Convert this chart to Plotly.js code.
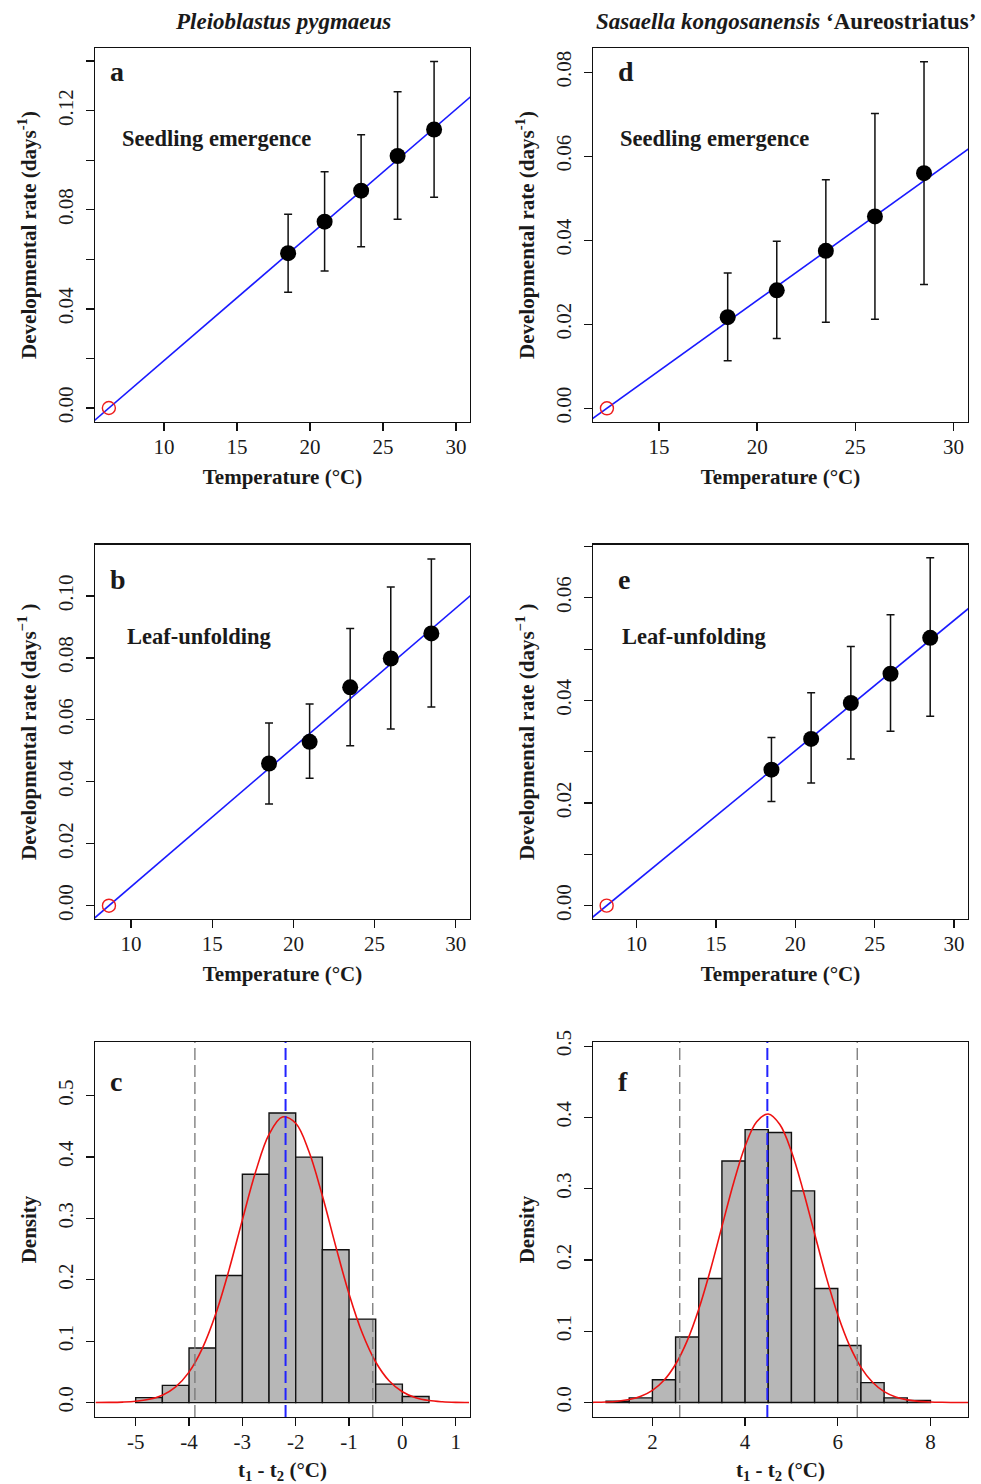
<!DOCTYPE html>
<html>
<head>
<meta charset="utf-8">
<script src="https://cdn.plot.ly/plotly-3.0.1.min.js"></script>
<style>body{margin:0;background:#fff}#chart{width:981px;height:1484px}</style>
</head>
<body>
<div id="chart"></div>
<script>
// ---------------- data ----------------
const temps = [18.5, 21, 23.5, 26, 28.5];

// Pleioblastus pygmaeus — seedling emergence (a)
const rateA  = [0.0625, 0.0752, 0.0877, 0.1017, 0.1124];
const upperA = [0.0782, 0.0954, 0.1103, 0.1276, 0.1399];
const lowerA = [0.0467, 0.0553, 0.0651, 0.0762, 0.0851];
const baseTempA = [6.22];
const slopeA = [0.00507];

// Pleioblastus pygmaeus — leaf-unfolding (b)
const rateB  = [0.0459, 0.0529, 0.0705, 0.0798, 0.0879];
const upperB = [0.0590, 0.0651, 0.0895, 0.1029, 0.1119];
const lowerB = [0.0328, 0.0411, 0.0516, 0.0570, 0.0641];
const baseTempB = [8.64];
const slopeB = [0.004496];

// Sasaella — seedling emergence (d)
const rateD  = [0.0217, 0.0281, 0.0375, 0.0457, 0.0560];
const upperD = [0.0322, 0.0398, 0.0544, 0.0702, 0.0825];
const lowerD = [0.0113, 0.0166, 0.0205, 0.0212, 0.0295];
const baseTempD = [12.35];
const slopeD = [0.003355];

// Sasaella — leaf-unfolding (e)
const rateE  = [0.0265, 0.0325, 0.0395, 0.0452, 0.0522];
const upperE = [0.0328, 0.0415, 0.0505, 0.0567, 0.0678];
const lowerE = [0.0203, 0.0239, 0.0286, 0.0340, 0.0369];
const baseTempE = [8.12];
const slopeE = [0.002542];

// histogram c
const binStartC = [-5, -4.5, -4, -3.5, -3, -2.5, -2, -1.5, -1, -0.5, 0];
const densC = [0.008, 0.028, 0.089, 0.207, 0.372, 0.472, 0.400, 0.249, 0.136, 0.030, 0.010];
const curveXC = [-5.75,-5.5,-5.25,-5,-4.75,-4.5,-4.25,-4,-3.75,-3.5,-3.25,-3,-2.75,-2.5,-2.25,-2,-1.75,-1.5,-1.25,-1,-0.75,-0.5,-0.25,0,0.25,0.5,0.75,1,1.25];
const curveYC = [0.0001,0.0003,0.0008,0.0021,0.0053,0.0121,0.0257,0.0496,0.0883,0.1442,0.2163,0.2978,0.3765,0.4369,0.4654,0.4552,0.4087,0.3369,0.2550,0.1771,0.1130,0.0661,0.0356,0.0176,0.0079,0.0033,0.0013,0.0004,0.0001];
const ciC = [-3.89, -0.555];
const meanC = [-2.19];
const xTickValsC = [-5, -4, -3, -2, -1, 0, 1];
const xTickTextC = ["-5", "-4", "-3", "-2", "-1", "0", "1"];

// histogram f
const binStartF = [1, 1.5, 2, 2.5, 3, 3.5, 4, 4.5, 5, 5.5, 6, 6.5, 7, 7.5];
const densF = [0.002, 0.0065, 0.032, 0.092, 0.174, 0.339, 0.383, 0.379, 0.297, 0.160, 0.080, 0.028, 0.0065, 0.003];
const curveXF = [0.5,0.75,1,1.25,1.5,1.75,2,2.25,2.5,2.75,3,3.25,3.5,3.75,4,4.25,4.5,4.75,5,5.25,5.5,5.75,6,6.25,6.5,6.75,7,7.25,7.5,7.75,8,8.25,8.5,8.75,9];
const curveYF = [0.0001,0.0003,0.0008,0.0019,0.0042,0.0087,0.0170,0.0312,0.0537,0.0866,0.1310,0.1857,0.2469,0.3078,0.3597,0.3941,0.4049,0.3901,0.3523,0.2984,0.2369,0.1764,0.1231,0.0805,0.0494,0.0284,0.0153,0.0078,0.0037,0.0016,0.0007,0.0003,0.0001,0,0];
const ciF = [2.59, 6.42];
const meanF = [4.48];

// ---------------- helpers ----------------
const W = 981, H = 1484;
const PX = x => x / W;
const PY = y => 1 - y / H;
const FONT = 'Liberation Serif, Times New Roman, serif';
const TXT = '#1a1a1a';

function rateTraces(ax, ay, rate, upper, lower, t0, slope) {
  const lx = [t0[0] - 5, 35];
  const ly = lx.map(x => slope[0] * (x - t0[0]));
  return [
    {type: 'scatter', mode: 'lines', x: lx, y: ly, xaxis: ax, yaxis: ay,
     line: {color: '#1a1aff', width: 1.6}, hoverinfo: 'skip'},
    {type: 'scatter', mode: 'markers', x: temps, y: rate, xaxis: ax, yaxis: ay,
     marker: {color: '#000', size: 16},
     error_y: {type: 'data', symmetric: false,
               array: upper.map((u, i) => u - rate[i]),
               arrayminus: lower.map((l, i) => rate[i] - l),
               color: '#111', thickness: 1.5, width: 4}},
    {type: 'scatter', mode: 'markers', x: t0, y: [0], xaxis: ax, yaxis: ay,
     marker: {symbol: 'circle-open', size: 13, color: '#ee1c1c', line: {width: 1.4, color: '#ee1c1c'}}}
  ];
}

function histTraces(ax, ay, starts, dens, cx, cy) {
  return [
    {type: 'bar', x: starts, y: dens, width: 0.5, offset: 0, xaxis: ax, yaxis: ay,
     marker: {color: '#b7b7b7', line: {color: '#111', width: 1.4}}},
    {type: 'scatter', mode: 'lines', x: cx, y: cy, xaxis: ax, yaxis: ay,
     line: {color: '#ee1111', width: 1.6, shape: 'spline'}}
  ];
}

const data = [].concat(
  rateTraces('x', 'y', rateA, upperA, lowerA, baseTempA, slopeA),
  rateTraces('x2', 'y2', rateD, upperD, lowerD, baseTempD, slopeD),
  rateTraces('x3', 'y3', rateB, upperB, lowerB, baseTempB, slopeB),
  rateTraces('x4', 'y4', rateE, upperE, lowerE, baseTempE, slopeE),
  histTraces('x5', 'y5', binStartC, densC, curveXC, curveYC),
  histTraces('x6', 'y6', binStartF, densF, curveXF, curveYF)
);

const colL = [PX(95), PX(470)];
const colR = [PX(593), PX(968)];
const row1 = [PY(422), PY(48)];
const row2 = [PY(919), PY(544.5)];
const row3 = [PY(1417), PY(1042)];

const tickFont = {family: FONT, size: 21, color: TXT};
const titleFont = {family: FONT, size: 21, color: TXT};

function xAx(domain, anchor, range, extra, title) {
  return Object.assign({
    domain: domain, anchor: anchor, range: range,
    showline: true, mirror: true, linecolor: '#111', linewidth: 1.4,
    ticks: 'outside', ticklen: 8, tickwidth: 1.3, tickcolor: '#111',
    showgrid: false, zeroline: false, tickfont: tickFont, ticklabelstandoff: -3,
    title: {text: title, font: titleFont, standoff: 11}
  }, extra);
}
function yAx(domain, anchor, range, extra, title) {
  return Object.assign({
    domain: domain, anchor: anchor, range: range,
    showline: true, mirror: true, linecolor: '#111', linewidth: 1.4,
    ticks: 'outside', ticklen: 8, tickwidth: 1.3, tickcolor: '#111',
    showgrid: false, zeroline: false, tickfont: tickFont, tickangle: -90,
    ticklabelstandoff: 4,
    title: {text: title, font: titleFont, standoff: 12}
  }, extra);
}

const tempTitle = '<b>Temperature (°C)</b>';
const rateTitle1 = '<b>Developmental rate (days<sup>-1</sup>)</b>';
const rateTitle2 = '<b>Developmental rate (days<sup>\u22121</sup> )</b>';
const diffTitle = '<b>t<sub>1</sub> - t<sub>2</sub> (°C)</b>';
const densTitle = '<b>Density</b>';
const minorTicks = d => ({dtick: d, ticks: 'outside', ticklen: 8, tickwidth: 1.3, tickcolor: '#111', showgrid: false});

function vline(xr, yr, x, color, width, dash) {
  return {type: 'line', xref: xr, yref: yr + ' domain', x0: x, x1: x, y0: 0, y1: 1,
          line: {color: color, width: width, dash: dash}, layer: 'above'};
}

const shapes = [
  vline('x5', 'y5', ciC[0], '#777', 1.3, '12px,5px'),
  vline('x5', 'y5', ciC[1], '#777', 1.3, '12px,5px'),
  vline('x5', 'y5', meanC[0], '#2222ff', 2, '12px,5px'),
  vline('x6', 'y6', ciF[0], '#777', 1.3, '12px,5px'),
  vline('x6', 'y6', ciF[1], '#777', 1.3, '12px,5px'),
  vline('x6', 'y6', meanF[0], '#2222ff', 2, '12px,5px')
];

function ann(text, x, y, size, xanchor) {
  return {text: text, xref: 'paper', yref: 'paper', x: PX(x), y: PY(y),
          xanchor: xanchor || 'left', yanchor: 'middle', showarrow: false,
          font: {family: FONT, size: size, color: TXT}};
}

const annotations = [
  ann('<b><i>Pleioblastus pygmaeus</i></b>', 283, 21, 23, 'center'),
  ann('<b><i>Sasaella kongosanensis</i> \u2018Aureostriatus\u2019</b>', 786, 21, 23, 'center'),
  ann('<b>a</b>', 108, 71, 28), ann('<b>d</b>', 616, 71, 28),
  ann('<b>b</b>', 108, 579, 28), ann('<b>e</b>', 616, 579, 28),
  ann('<b>c</b>', 108, 1081, 28), ann('<b>f</b>', 616, 1081, 28),
  ann('<b>Seedling emergence</b>', 120, 138, 22.5), ann('<b>Seedling emergence</b>', 618, 138, 22.5),
  ann('<b>Leaf-unfolding</b>', 125, 636, 22.5), ann('<b>Leaf-unfolding</b>', 620, 636, 22.5)
];

const layout = {
  width: W, height: H, margin: {l: 0, r: 0, t: 0, b: 0},
  paper_bgcolor: '#fff', plot_bgcolor: '#fff', showlegend: false,
  font: {family: FONT, color: TXT},
  xaxis:  xAx(colL, 'y',  [5.27, 30.96], {dtick: 5, tick0: 0}, tempTitle),
  yaxis:  yAx(row1, 'x',  [-0.00565, 0.1453], {dtick: 0.04, tick0: 0, tickformat: '.2f', minor: minorTicks(0.02)}, rateTitle1),
  xaxis2: xAx(colR, 'y2', [11.64, 30.74], {dtick: 5, tick0: 0}, tempTitle),
  yaxis2: yAx(row1, 'x2', [-0.00326, 0.0858], {dtick: 0.02, tick0: 0, tickformat: '.2f'}, rateTitle1),
  xaxis3: xAx(colL, 'y3', [7.78, 30.88], {dtick: 5, tick0: 0}, tempTitle),
  yaxis3: yAx(row2, 'x3', [-0.0043, 0.1166], {dtick: 0.02, tick0: 0, tickformat: '.2f'}, rateTitle2),
  xaxis4: xAx(colR, 'y4', [7.26, 30.88], {dtick: 5, tick0: 0}, tempTitle),
  yaxis4: yAx(row2, 'x4', [-0.0026, 0.0704], {dtick: 0.02, tick0: 0, tickformat: '.2f', minor: minorTicks(0.01)}, rateTitle2),
  xaxis5: xAx(colL, 'y5', [-5.763, 1.268], {tickmode: 'array', tickvals: xTickValsC, ticktext: xTickTextC}, diffTitle),
  yaxis5: yAx(row3, 'x5', [-0.0235, 0.5876], {dtick: 0.1, tick0: 0, tickformat: '.1f'}, densTitle),
  xaxis6: xAx(colR, 'y6', [0.718, 8.81], {dtick: 2, tick0: 0}, diffTitle),
  yaxis6: yAx(row3, 'x6', [-0.0203, 0.506], {dtick: 0.1, tick0: 0, tickformat: '.1f'}, densTitle),
  shapes: shapes,
  annotations: annotations
};

Plotly.newPlot('chart', data, layout, {staticPlot: true, displayModeBar: false});
</script>
</body>
</html>
